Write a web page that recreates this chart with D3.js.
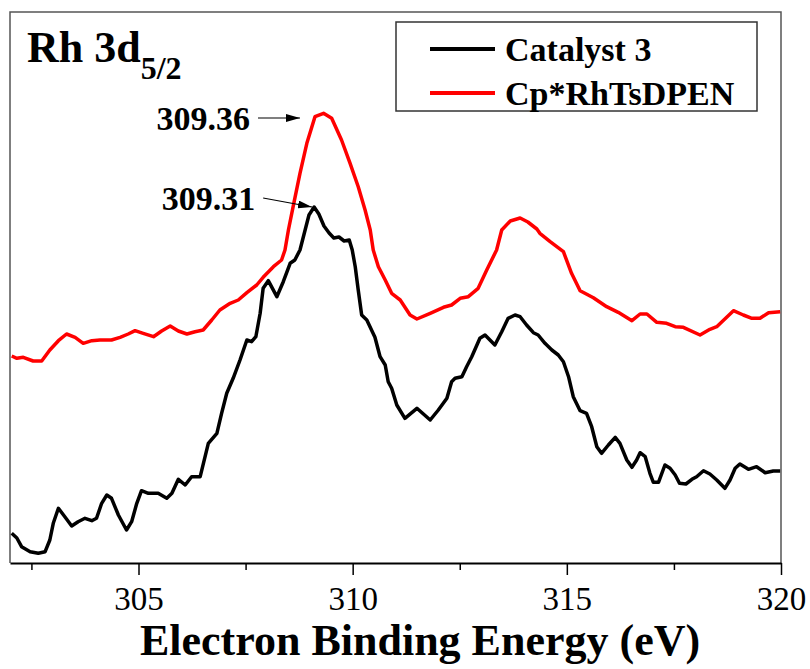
<!DOCTYPE html>
<html>
<head>
<meta charset="utf-8">
<script src="https://cdn.jsdelivr.net/npm/d3@7"></script>
<style>
  body { margin: 0; background: #fff; }
  svg text { font-family: "Liberation Serif", "Times New Roman", serif; }
</style>
</head>
<body>
<div id="chart"></div>
<script>
"use strict";

var width = 810;
var height = 669;
var plot_left = 10, plot_right = 781, plot_top = 12, plot_bottom = 563;

// binding energy (eV) and intensity (a.u.)
var catalyst_energy = [302.04,302.16,302.27,302.47,302.66,302.82,302.93,303.01,303.13,303.28,303.44,303.59,303.75,303.91,304.02,304.14,304.26,304.37,304.53,304.72,304.84,304.96,305.07,305.23,305.46,305.66,305.78,305.93,306.09,306.24,306.44,306.63,306.83,306.94,307.06,307.21,307.37,307.53,307.64,307.74,307.84,307.91,308.03,308.23,308.38,308.54,308.65,308.77,308.89,308.98,309.10,309.21,309.33,309.45,309.56,309.68,309.80,309.92,309.99,310.06,310.13,310.21,310.33,310.52,310.64,310.76,310.83,310.91,311.03,311.22,311.50,311.81,312.00,312.20,312.31,312.39,312.55,312.66,312.78,312.97,313.09,313.32,313.48,313.63,313.79,313.91,314.06,314.22,314.33,314.49,314.65,314.80,314.92,315.04,315.15,315.31,315.46,315.58,315.70,315.81,315.97,316.13,316.24,316.40,316.52,316.63,316.71,316.83,316.94,317.02,317.14,317.29,317.41,317.53,317.63,317.78,317.92,318.03,318.19,318.34,318.50,318.69,318.81,318.93,319.04,319.24,319.43,319.63,319.82,319.98];
var catalyst_counts = [29.7,25,16.3,11.3,9.7,11.3,23,39.7,54.7,46.3,37,41.3,44.7,42.3,44.7,59.7,68,64.7,48,33,41.3,59.7,72.3,69.7,69.7,64.7,69.7,83.7,78,86.3,86.3,119.7,129.7,149.7,169.7,184.7,203,223,221.3,226.3,249.7,274.7,282.3,266.3,281.3,299.7,303,313,333,348,356,349,337,330,325,326,322,323,313,296.3,273,248,243,225.7,206.3,198,181.3,174.7,158,144.7,154.7,143,153,164.7,181.3,184.7,186.3,196.3,206.3,224.7,228,218,231.3,244.7,248,246.3,238,230.3,228,219.7,213,208,201.3,186.3,166.3,152.3,149.7,136.3,116.3,109.7,118,125.7,119.7,103,95.7,103,110.3,106.3,89.7,80.7,80.7,98,94.7,88,79.7,79,83.7,86.3,92.3,89,83,74.7,83,94.7,99,93.7,96.3,90.3,92,92];

var ref_energy = [302.04,302.16,302.31,302.54,302.74,302.93,303.13,303.32,303.52,303.71,303.91,304.10,304.37,304.57,304.76,304.92,305.11,305.35,305.54,305.74,305.93,306.13,306.32,306.51,306.71,306.90,307.14,307.33,307.53,307.76,307.91,308.15,308.34,308.42,308.50,308.61,308.77,308.93,309.12,309.32,309.51,309.74,309.94,310.13,310.29,310.41,310.48,310.60,310.76,310.91,311.11,311.34,311.50,311.81,312.12,312.31,312.51,312.70,312.93,313.13,313.36,313.48,313.68,313.91,314.09,314.30,314.37,314.61,314.92,315.11,315.31,315.62,315.93,316.20,316.52,316.71,316.87,317.10,317.33,317.53,317.72,318.11,318.34,318.50,318.89,319.12,319.32,319.51,319.71,319.98];
var ref_counts = [207,204.7,205.7,202,202,213,222.3,229,225.7,219.7,222.3,223,223,225.7,229,232.3,229.7,226.3,232,237,232,229,231.3,233,243,253,259.7,263,270.3,278,285.7,296.3,303,313,333,356.3,389.7,419.7,446.3,449.7,444.7,423,399.7,376.3,353,333,313,296.3,283,269.7,263,248,244,249.7,255.7,258,264.7,266.3,274.7,293,313,333,342,345,341,334,329.7,321.3,311.3,289.7,272.3,265.3,256.3,250.7,242.3,249,249,240.7,239.7,236.3,235.7,228,233.7,236.3,252.3,248,244.7,244.7,250.3,251.3];

var series_names = ["Catalyst 3", "Cp*RhTsDPEN"];
var series_colors = ["#000000", "#ff0000"];

var major_ticks = [305, 310, 315, 320];
var minor_ticks = [302.5, 307.5, 312.5, 317.5];

// peak labels: [text, arrow start E, start I, arrow end E, end I]
var peak_labels = [
  ["309.36", 307.79, 445, 308.77, 445],
  ["309.31", 307.91, 365, 309.05, 356]
];

var xScale = d3.scaleLinear()
               .domain([302, 320])
               .range([plot_left, plot_right]);

var yScale = d3.scaleLinear()
               .domain([0, 551])
               .range([plot_bottom, plot_top]);

var svg = d3.select("#chart")
            .append("svg")
            .attr("width", width)
            .attr("height", height);

svg.append("defs").append("marker")
   .attr("id", "arrow")
   .attr("viewBox", "0 0 14 8")
   .attr("refX", 14)
   .attr("refY", 4)
   .attr("markerWidth", 14)
   .attr("markerHeight", 8)
   .attr("markerUnits", "userSpaceOnUse")
   .attr("orient", "auto")
   .append("path")
   .attr("d", "M0,0 L14,4 L0,8 Z")
   .attr("fill", "#000");

// frame (left, top, right)
svg.append("path")
   .attr("d", "M" + plot_left + "," + plot_bottom + " V" + plot_top + " H" + plot_right + " V" + plot_bottom)
   .attr("fill", "none")
   .attr("stroke", "#555")
   .attr("stroke-width", 1.5);

var line = d3.line()
             .x(function(d) { return xScale(d[0]); })
             .y(function(d) { return yScale(d[1]); });

var series = [
  d3.zip(catalyst_energy, catalyst_counts),
  d3.zip(ref_energy, ref_counts)
];

svg.selectAll(".spectrum")
   .data(series)
   .enter()
   .append("path")
   .attr("class", "spectrum")
   .attr("d", line)
   .attr("fill", "none")
   .attr("stroke", function(d, i) { return series_colors[i]; })
   .attr("stroke-width", 3.5)
   .attr("stroke-linejoin", "round");

// x axis, major ticks with labels
var xAxis = d3.axisBottom(xScale)
              .tickValues(major_ticks)
              .tickSize(12)
              .tickSizeOuter(0)
              .tickPadding(12)
              .tickFormat(d3.format("d"));

var gx = svg.append("g")
            .attr("transform", "translate(0," + plot_bottom + ")")
            .call(xAxis);

gx.select(".domain").attr("stroke", "#000").attr("stroke-width", 2);
gx.selectAll(".tick line").attr("stroke", "#000").attr("stroke-width", 1.5);
gx.selectAll(".tick text")
  .attr("fill", "#000")
  .style("font-family", "'Liberation Serif', 'Times New Roman', serif")
  .style("font-size", "33px");

// minor ticks
var xMinor = d3.axisBottom(xScale)
               .tickValues(minor_ticks)
               .tickSize(7)
               .tickSizeOuter(0)
               .tickFormat("");

var gm = svg.append("g")
            .attr("transform", "translate(0," + plot_bottom + ")")
            .call(xMinor);
gm.select(".domain").remove();
gm.selectAll(".tick line").attr("stroke", "#000").attr("stroke-width", 1.5);

// axis title
svg.append("text")
   .attr("x", 420)
   .attr("y", 655)
   .attr("text-anchor", "middle")
   .style("font-size", "44px")
   .style("font-weight", "bold")
   .text("Electron Binding Energy (eV)");

// panel title
var title = svg.append("text")
   .attr("x", 27)
   .attr("y", 62)
   .style("font-size", "44px")
   .style("font-weight", "bold");
title.append("tspan").text("Rh 3d");
title.append("tspan")
     .attr("dy", 17)
     .style("font-size", "32px")
     .text("5/2");

// peak annotations
peak_labels.forEach(function(p) {
  svg.append("line")
     .attr("x1", xScale(p[1]))
     .attr("y1", yScale(p[2]))
     .attr("x2", xScale(p[3]))
     .attr("y2", yScale(p[4]))
     .attr("stroke", "#000")
     .attr("stroke-width", 1.2)
     .attr("marker-end", "url(#arrow)");

  svg.append("text")
     .attr("x", xScale(p[1]) - 8)
     .attr("y", yScale(p[2]) + 12)
     .attr("text-anchor", "end")
     .style("font-size", "34px")
     .style("font-weight", "bold")
     .text(p[0]);
});

// legend
var legend = svg.append("g");
legend.append("rect")
      .attr("x", 396)
      .attr("y", 22)
      .attr("width", 361)
      .attr("height", 89)
      .attr("fill", "#fff")
      .attr("stroke", "#333")
      .attr("stroke-width", 1.5);

series_names.forEach(function(name, i) {
  var ly = 49 + i * 44;
  legend.append("line")
        .attr("x1", 430)
        .attr("x2", 495)
        .attr("y1", ly)
        .attr("y2", ly)
        .attr("stroke", series_colors[i])
        .attr("stroke-width", 4);
  legend.append("text")
        .attr("x", 505)
        .attr("y", ly + 12)
        .style("font-size", "34px")
        .style("font-weight", "bold")
        .text(name);
});
</script>
</body>
</html>
